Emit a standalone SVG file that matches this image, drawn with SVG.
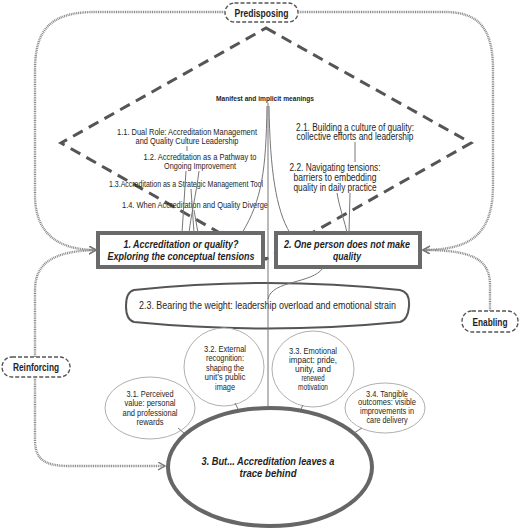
<svg xmlns="http://www.w3.org/2000/svg" width="520" height="529" viewBox="0 0 520 529">
<style>
text{font-family:"Liberation Sans",Arial,sans-serif;fill:#1e1e1e;text-anchor:middle}
.sub{font-size:9px}
.sub2{font-size:10px}
.ell{font-size:9px}
.main{font-size:11.5px;font-weight:bold;font-style:italic}
.lbl{font-size:10.5px;font-weight:bold}
.pill{fill:#fff;stroke:#555;stroke-width:1.4;stroke-dasharray:4 2}
.box{fill:#fff;stroke:#6a6a6a;stroke-width:4}
.oval{fill:#fff;stroke:#b0b0b0;stroke-width:1}
.line{fill:none;stroke:#777;stroke-width:1}
.dot{fill:none;stroke:#8a8a8a;stroke-width:2.4;stroke-dasharray:1 0.8}
</style>
<defs>
<marker id="arr" markerUnits="userSpaceOnUse" markerWidth="10" markerHeight="10" refX="7" refY="4" orient="auto">
<path d="M0,0 L7,4 L0,8" fill="none" stroke="#777" stroke-width="1.4"/>
</marker>
</defs>
<rect width="520" height="529" fill="#fff"/>
<polygon id="diamond" points="266,28 471,143 266,259 61,143" fill="none" stroke="#555" stroke-width="3" stroke-dasharray="11 7"/>

<g id="predisposing"><rect class="pill" x="225" y="3" width="73" height="19" rx="9.5"/><text class="lbl" x="261.5" y="16.5" textLength="54" lengthAdjust="spacingAndGlyphs">Predisposing</text></g>
<g id="reinforcing"><rect class="pill" x="2" y="357" width="68" height="20" rx="10"/><text class="lbl" x="36" y="371" textLength="46" lengthAdjust="spacingAndGlyphs">Reinforcing</text></g>
<g id="enabling"><rect class="pill" x="462" y="311" width="56" height="21" rx="10"/><text class="lbl" x="490" y="325.5" textLength="35" lengthAdjust="spacingAndGlyphs">Enabling</text></g>

<g id="manifest"><text x="265" y="101" style="font-size:7.5px;font-weight:bold" textLength="98" lengthAdjust="spacingAndGlyphs">Manifest and implicit meanings</text></g>

<g id="t11"><text class="sub" x="187" y="134.5" textLength="140" lengthAdjust="spacingAndGlyphs">1.1. Dual Role: Accreditation Management</text><text class="sub" x="187" y="144" textLength="103" lengthAdjust="spacingAndGlyphs">and Quality Culture Leadership</text></g>
<g id="t12"><text class="sub" x="200" y="159.5" textLength="113" lengthAdjust="spacingAndGlyphs">1.2. Accreditation as a Pathway to</text><text class="sub" x="200" y="169" textLength="72" lengthAdjust="spacingAndGlyphs">Ongoing Improvement</text></g>
<g id="t13"><text class="sub" x="186" y="186.5" textLength="154" lengthAdjust="spacingAndGlyphs">1.3.Accreditation as a Strategic Management Tool</text></g>
<g id="t14"><text class="sub" x="195" y="207.5" textLength="146" lengthAdjust="spacingAndGlyphs">1.4. When Accreditation and Quality Diverge</text></g>

<g id="t21"><text class="sub2" x="355" y="130.5" textLength="118" lengthAdjust="spacingAndGlyphs">2.1. Building a culture of quality:</text><text class="sub2" x="355" y="140" textLength="117" lengthAdjust="spacingAndGlyphs">collective efforts and leadership</text></g>
<g id="t22"><text class="sub2" x="335" y="171" textLength="91" lengthAdjust="spacingAndGlyphs">2.2. Navigating tensions:</text><text class="sub2" x="335" y="181" textLength="83" lengthAdjust="spacingAndGlyphs">barriers to embedding</text><text class="sub2" x="335" y="191" textLength="83" lengthAdjust="spacingAndGlyphs">quality in daily practice</text></g>

<g id="theme1"><rect class="box" x="98" y="233" width="165" height="34"/><text class="main" x="181" y="248" textLength="115" lengthAdjust="spacingAndGlyphs">1. Accreditation or quality?</text><text class="main" x="181" y="259.5" textLength="147" lengthAdjust="spacingAndGlyphs">Exploring the conceptual tensions</text></g>
<g id="theme2"><rect class="box" x="276" y="233" width="144" height="34"/><text class="main" x="347" y="248" textLength="126" lengthAdjust="spacingAndGlyphs">2. One person does not make</text><text class="main" x="347" y="259.5" textLength="28" lengthAdjust="spacingAndGlyphs">quality</text></g>

<g id="t23"><path d="M134,290 Q267,276 400,290 Q410,292 409,306 Q408,320 400,322 Q267,335 134,322 Q126,320 126,306 Q126,292 134,290 Z" fill="#fff" stroke="#555" stroke-width="2"/><text class="sub2" x="267.5" y="309" style="font-size:10.5px" textLength="257" lengthAdjust="spacingAndGlyphs">2.3. Bearing the weight: leadership overload and emotional strain</text></g>

<g id="t31"><ellipse class="oval" cx="150" cy="408" rx="45" ry="31"/><text class="ell" x="150" y="396.5" textLength="47" lengthAdjust="spacingAndGlyphs">3.1. Perceived</text><text class="ell" x="150" y="406" textLength="51" lengthAdjust="spacingAndGlyphs">value: personal</text><text class="ell" x="150" y="415.5" textLength="55" lengthAdjust="spacingAndGlyphs">and professional</text><text class="ell" x="150" y="425" textLength="27" lengthAdjust="spacingAndGlyphs">rewards</text></g>
<g id="t32"><ellipse class="oval" cx="224" cy="367" rx="40" ry="39"/><text class="ell" x="225" y="351.5" textLength="42" lengthAdjust="spacingAndGlyphs">3.2. External</text><text class="ell" x="225" y="361" textLength="38" lengthAdjust="spacingAndGlyphs">recognition:</text><text class="ell" x="225" y="370.5" textLength="38" lengthAdjust="spacingAndGlyphs">shaping the</text><text class="ell" x="225" y="380" textLength="41" lengthAdjust="spacingAndGlyphs">unit’s public</text><text class="ell" x="225" y="389.5" textLength="20" lengthAdjust="spacingAndGlyphs">image</text></g>
<g id="t33"><ellipse class="oval" cx="313" cy="369" rx="41" ry="38"/><text class="ell" x="313" y="353.5" textLength="48" lengthAdjust="spacingAndGlyphs">3.3. Emotional</text><text class="ell" x="313" y="362.7" textLength="48" lengthAdjust="spacingAndGlyphs">impact: pride,</text><text class="ell" x="313" y="371.9" textLength="36" lengthAdjust="spacingAndGlyphs">unity, and</text><text class="ell" x="313" y="381.1" textLength="23" lengthAdjust="spacingAndGlyphs">renewed</text><text class="ell" x="313" y="390.3" textLength="30" lengthAdjust="spacingAndGlyphs">motivation</text></g>
<g id="t34"><ellipse class="oval" cx="385" cy="408" rx="40" ry="25"/><text class="ell" x="387" y="396.5" textLength="42" lengthAdjust="spacingAndGlyphs">3.4. Tangible</text><text class="ell" x="387" y="405.2" textLength="58" lengthAdjust="spacingAndGlyphs">outcomes: visible</text><text class="ell" x="387" y="413.9" textLength="54" lengthAdjust="spacingAndGlyphs">improvements in</text><text class="ell" x="387" y="422.6" textLength="41" lengthAdjust="spacingAndGlyphs">care delivery</text></g>

<g id="theme3"><ellipse cx="270" cy="467" rx="102" ry="59" fill="#fff" stroke="#666" stroke-width="4"/><text class="main" x="268" y="465" style="font-size:10.8px" textLength="133" lengthAdjust="spacingAndGlyphs">3. But... Accreditation leaves a</text><text class="main" x="268" y="476.5" style="font-size:10.8px" textLength="57" lengthAdjust="spacingAndGlyphs">trace behind</text></g>

<g id="connectors">
<path class="line" d="M268,103 L268,407"/>
<path class="line" d="M267,106 C 266,170 262,200 242,233"/>
<path class="line" d="M269,106 C 270,170 276,210 290,233"/>
<path class="line" d="M323,268 C 312,284 272,280 268,299"/>
<path class="line" d="M187,146 L187,151"/>
<path class="line" d="M186,171 L182,233"/>
<path class="line" d="M199,171 C 196,195 191,215 189,233"/>
<path class="line" d="M191,189 L194,233"/>
<path class="line" d="M194,210 L198,233"/>
<path class="line" d="M355,142 L355,162"/>
<path class="line" d="M337,193 C 340,210 345,222 347,233"/>
<path class="line" d="M350,193 L349,233"/>
<path class="line" d="M178,428 L184,433"/>
<path class="line" d="M235,403 L238,409"/>
<path class="line" d="M303,405 L301,409"/>
<path class="line" d="M362,428 L354,433"/>
<path class="dot" d="M225,12 L95,12 C 50,12 35,30 35,70 L35,195 C 35,235 60,250 96,250" marker-end="url(#arr)"/>
<path class="dot" d="M35,357 L35,290 C 35,262 55,251 96,250" marker-end="url(#arr)"/>
<path class="dot" d="M35,377 L35,440 C 35,460 45,466 70,466 L165,466" marker-end="url(#arr)"/>
<path class="dot" d="M298,12 L445,12 C 480,12 493,30 493,70 L493,185 C 493,235 470,250 423,250" marker-end="url(#arr)"/>
<path class="dot" d="M490,311 L490,285 C 490,258 470,250 423,250" marker-end="url(#arr)"/>
</g>
</svg>
